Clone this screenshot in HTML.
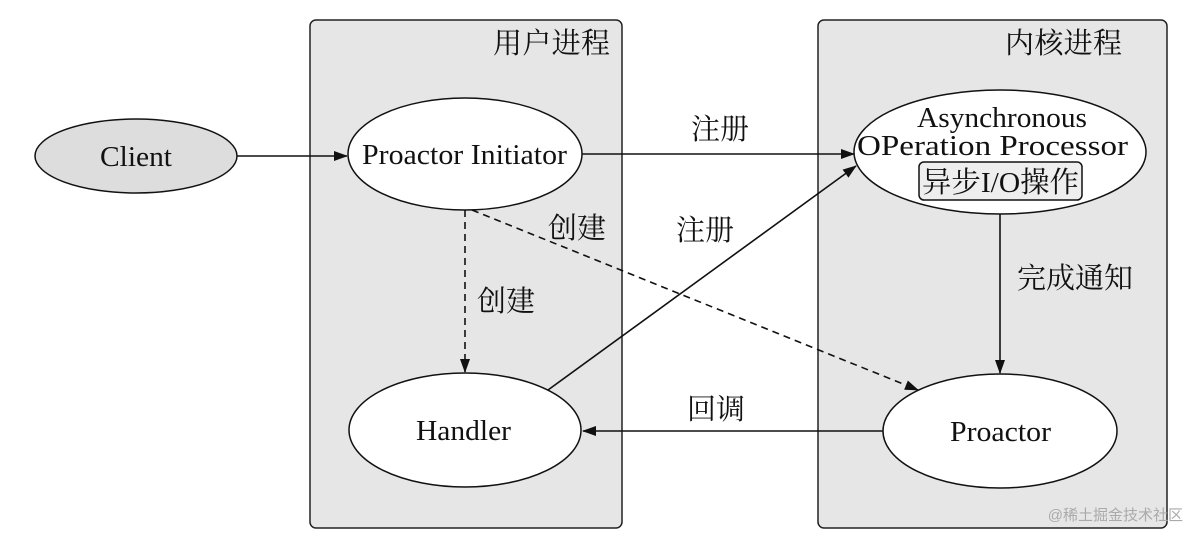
<!DOCTYPE html>
<html><head><meta charset="utf-8"><style>
html,body{margin:0;padding:0;background:#fff;}
svg{display:block}
text{font-family:"Liberation Serif","Noto Serif CJK SC",serif;fill:#111;}
</style></head><body>
<svg width="1199" height="540" viewBox="0 0 1199 540" xmlns="http://www.w3.org/2000/svg">
<defs>
<marker id="a" markerWidth="14" markerHeight="10" refX="13" refY="5" orient="auto" markerUnits="userSpaceOnUse">
<path d="M0,0 L14,5 L0,10 z" fill="#111"/></marker>
</defs>
<rect x="310" y="20" width="312" height="508" rx="6" fill="#e6e6e6" stroke="#222" stroke-width="1.5"/>
<rect x="818" y="20" width="349" height="508" rx="6" fill="#e6e6e6" stroke="#222" stroke-width="1.5"/>
<text x="493" y="53" font-size="29" textLength="117">用户进程</text>
<text x="1005" y="53" font-size="29" textLength="117">内核进程</text>

<ellipse cx="136" cy="156" rx="101" ry="37" fill="#ddd" stroke="#111" stroke-width="1.5"/>
<text x="100" y="166" font-size="28" textLength="72" lengthAdjust="spacingAndGlyphs">Client</text>

<ellipse cx="465" cy="154" rx="117" ry="56" fill="#fff" stroke="#111" stroke-width="1.5"/>
<text x="362" y="164" font-size="28" textLength="205" lengthAdjust="spacingAndGlyphs">Proactor Initiator</text>

<ellipse cx="1000" cy="152" rx="146" ry="62" fill="#fff" stroke="#111" stroke-width="1.5"/>
<text x="917" y="127" font-size="28" textLength="170" lengthAdjust="spacingAndGlyphs">Asynchronous</text>
<text x="857" y="155" font-size="28" textLength="271" lengthAdjust="spacingAndGlyphs">OPeration Processor</text>
<rect x="919" y="162" width="163" height="38" rx="5" fill="#eee" stroke="#111" stroke-width="1.5"/>
<text x="922" y="192" font-size="29" textLength="157" lengthAdjust="spacingAndGlyphs">异步I/O操作</text>

<ellipse cx="465" cy="430" rx="116" ry="57" fill="#fff" stroke="#111" stroke-width="1.5"/>
<text x="416" y="440" font-size="28" textLength="95" lengthAdjust="spacingAndGlyphs">Handler</text>

<ellipse cx="1000" cy="431" rx="117" ry="57" fill="#fff" stroke="#111" stroke-width="1.5"/>
<text x="950" y="441" font-size="28" textLength="101" lengthAdjust="spacingAndGlyphs">Proactor</text>

<g stroke="#111" stroke-width="1.6" fill="none">
<line x1="237" y1="156" x2="347" y2="156" marker-end="url(#a)"/>
<line x1="582" y1="154" x2="854" y2="154" marker-end="url(#a)"/>
<line x1="465" y1="210" x2="465" y2="372" stroke-dasharray="7,5" marker-end="url(#a)"/>
<line x1="472" y1="210" x2="918" y2="390" stroke-dasharray="7,5" marker-end="url(#a)"/>
<line x1="548" y1="390" x2="856" y2="166" marker-end="url(#a)"/>
<line x1="1000" y1="214" x2="1000" y2="373" marker-end="url(#a)"/>
<line x1="883" y1="431" x2="583" y2="431" marker-end="url(#a)"/>
</g>
<text x="720" y="139" font-size="29" text-anchor="middle">注册</text>
<text x="577" y="238" font-size="29" text-anchor="middle">创建</text>
<text x="705" y="240" font-size="29" text-anchor="middle">注册</text>
<text x="506" y="311" font-size="29" text-anchor="middle">创建</text>
<text x="1075" y="288" font-size="29" text-anchor="middle">完成通知</text>
<text x="716" y="419" font-size="29" text-anchor="middle">回调</text>
<text x="1183" y="520" font-size="15" text-anchor="end" style="fill:#aaa;font-family:'Liberation Sans','Noto Sans CJK SC',sans-serif">@稀土掘金技术社区</text>
</svg>
</body></html>
